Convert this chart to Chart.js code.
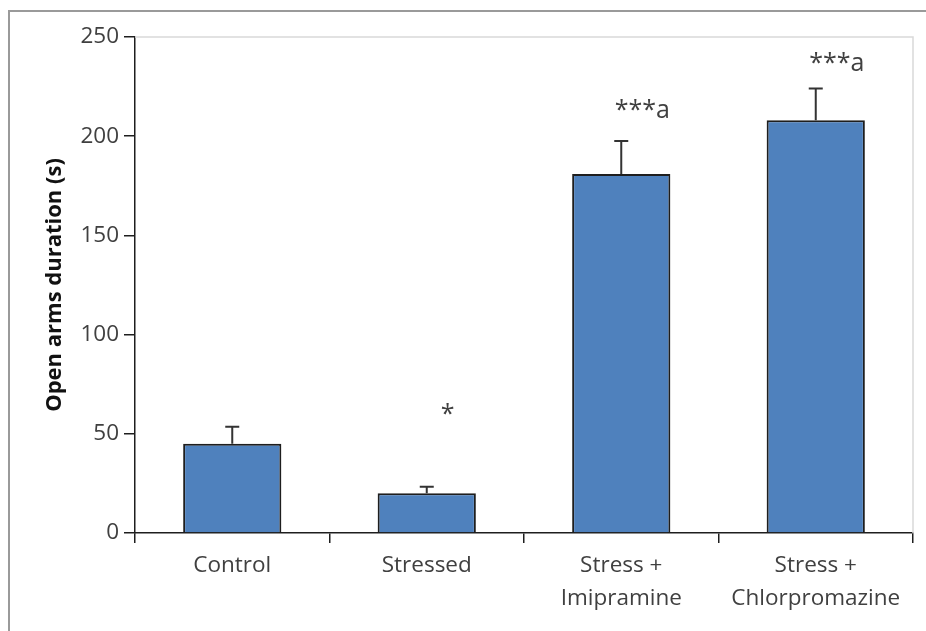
<!DOCTYPE html>
<html>
<head>
<meta charset="utf-8">
<script src="https://cdn.jsdelivr.net/npm/chart.js@4.4.0/dist/chart.umd.min.js"></script>
<style>
  html, body { margin: 0; padding: 0; background: #fff; }
  #wrap { position: relative; width: 926px; height: 631px; overflow: hidden; }
  #frame { position: absolute; left: 8px; top: 10px; width: 940px; height: 640px;
           border-left: 2px solid #9a9a9a; border-top: 2px solid #9a9a9a; }
  canvas { position: absolute; left: 0; top: 0; }
</style>
</head>
<body>
<div id="wrap">
  <div id="frame"></div>
  <canvas id="chart" width="926" height="631"></canvas>
</div>
<script>
var groups = ['Control', 'Stressed', ['Stress +', 'Imipramine'], ['Stress +', 'Chlorpromazine']];
var openArms = [45, 20, 181, 208];
var openArmsSem = [8.6, 3.3, 16.6, 16.1];
var sigMarks = ['', '*', '***a', '***a'];
var sigMarkY = [null, 56, 209, 233];
var yTicks = [0, 50, 100, 150, 200, 250];

var textColor = '#404040';
var fontFam = '"Open Sans", "Noto Sans", sans-serif';

// plot area border (top + right) like the excel chart
var plotBorder = {
    id: 'plotBorder',
    beforeDatasetsDraw: function(chart) {
        var a = chart.chartArea, c = chart.ctx;
        c.save();
        c.strokeStyle = '#d9d9d9';
        c.lineWidth = 1.5;
        c.beginPath();
        c.moveTo(a.left, a.top);
        c.lineTo(a.right, a.top);
        c.lineTo(a.right, a.bottom);
        c.stroke();
        c.restore();
    }
};

var errorBars = {
    id: 'errorBars',
    afterDatasetsDraw: function(chart) {
        var c = chart.ctx;
        var y = chart.scales.y;
        var meta = chart.getDatasetMeta(0);
        c.save();
        c.strokeStyle = '#333';
        c.lineWidth = 2;
        for (var i = 0; i < meta.data.length; i++) {
            var bar = meta.data[i];
            var y0 = y.getPixelForValue(openArms[i]);
            var y1 = y.getPixelForValue(openArms[i] + openArmsSem[i]);
            c.beginPath();
            c.moveTo(bar.x, y0);
            c.lineTo(bar.x, y1);
            c.moveTo(bar.x - 7, y1);
            c.lineTo(bar.x + 7, y1);
            c.stroke();
        }
        // significance marks
        c.fillStyle = textColor;
        c.font = '25px ' + fontFam;
        c.textAlign = 'center';
        c.textBaseline = 'alphabetic';
        for (var j = 0; j < sigMarks.length; j++) {
            if (!sigMarks[j]) continue;
            c.fillText(sigMarks[j], meta.data[j].x + 21, y.getPixelForValue(sigMarkY[j]));
        }
        c.restore();
    }
};

var ctx = document.getElementById('chart');
var chartParams = {
    type: 'bar',
    data: {
        labels: groups,
        datasets: [{
            data: openArms,
            backgroundColor: '#4f81bd',
            borderColor: '#1e1e1e',
            borderWidth: 2,
            borderSkipped: 'bottom',
            categoryPercentage: 1.0,
            barPercentage: 0.505
        }]
    },
    options: {
        responsive: false,
        animation: false,
        devicePixelRatio: 1,
        layout: { padding: { left: 0, top: 37, right: 13, bottom: 0 } },
        plugins: { legend: { display: false }, tooltip: { enabled: false } },
        scales: {
            x: {
                grid: { offset: true, drawOnChartArea: false, drawTicks: true, tickLength: 10, color: '#1e1e1e', lineWidth: 1.5 },
                border: { color: '#1e1e1e', width: 1.5 },
                ticks: { color: textColor, padding: 6, maxRotation: 0, autoSkip: false,
                         font: { family: fontFam, size: 22.5, lineHeight: 1.47 } },
                afterFit: function(s) { s.height = 98; }
            },
            y: {
                min: 0, max: 250,
                afterBuildTicks: function(s) { s.ticks = yTicks.map(function(v) { return { value: v }; }); },
                grid: { drawOnChartArea: false, drawTicks: true, tickLength: 11, color: '#1e1e1e', lineWidth: 1.5 },
                border: { color: '#1e1e1e', width: 1.5 },
                ticks: { color: textColor, padding: 5, font: { family: fontFam, size: 22.5 } },
                title: { display: true, text: 'Open arms duration (s)', color: '#111',
                         font: { family: fontFam, size: 22, weight: 'bold' }, padding: { top: 42, bottom: 0 } },
                afterFit: function(s) { s.width = 135; }
            }
        }
    },
    plugins: [plotBorder, errorBars]
};

var myChart = new Chart(ctx, chartParams);
</script>
</body>
</html>
